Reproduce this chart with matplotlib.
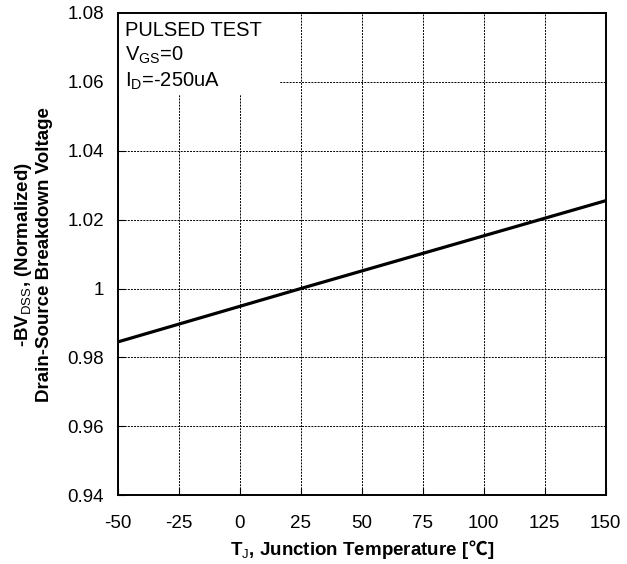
import matplotlib
matplotlib.use("Agg")
import matplotlib.pyplot as plt
from matplotlib.patches import Rectangle
from matplotlib.offsetbox import TextArea, HPacker, AnchoredOffsetbox

plt.rcParams['font.family'] = ['Liberation Sans', 'DejaVu Sans']
plt.rcParams['mathtext.fontset'] = 'custom'
plt.rcParams['mathtext.rm'] = 'Liberation Sans'
plt.rcParams['mathtext.bf'] = 'Liberation Sans:bold'
plt.rcParams['axes.unicode_minus'] = False

# values
temps = [-50, 25, 150]
bv_norm = [0.9845, 1.0, 1.0255]

x_ticks = [-50, -25, 0, 25, 50, 75, 100, 125, 150]
y_ticks = [0.94, 0.96, 0.98, 1.00, 1.02, 1.04, 1.06, 1.08]
y_labels = ['0.94', '0.96', '0.98', '1', '1.02', '1.04', '1.06', '1.08']

fig = plt.figure(figsize=(6.27, 5.64), dpi=100)
ax = fig.add_axes([0.188, 0.122, 0.778, 0.855])

ax.plot(temps, bv_norm, color='black', lw=2.3, zorder=3)

ax.set_xlim(-50, 150)
ax.set_ylim(0.94, 1.08)
ax.set_xticks(x_ticks)
ax.set_yticks(y_ticks)
ax.set_yticklabels(y_labels)
ax.tick_params(direction='in', length=5, width=0.8, labelsize=13.5)
ax.tick_params(axis='x', pad=14)
ax.tick_params(axis='y', pad=10)
ax.grid(True, color='black', linestyle=(0, (2, 1.2)), lw=0.7)
for s in ax.spines.values():
    s.set_linewidth(1.4)

ax.set_ylabel(r'-BV$_{\mathrm{DSS}}$, (Normalized)' + '\nDrain-Source Breakdown Voltage',
              fontsize=13.5, fontweight='bold', labelpad=10, linespacing=1.2)

# x label built from pieces so the degree-Celsius sign gets a font that has it
lbl_props = dict(fontsize=13.5, fontweight='bold')
xlabel = HPacker(children=[
    TextArea(r'T$_{\mathrm{J}}$, Junction Temperature [', textprops=lbl_props),
    TextArea('℃', textprops=dict(family=['Noto Sans CJK SC', 'DejaVu Sans'], **lbl_props)),
    TextArea(']', textprops=lbl_props),
], align='baseline', pad=0, sep=0)
ax.add_artist(AnchoredOffsetbox(loc='upper center', child=xlabel, pad=0, borderpad=0,
                                frameon=False, bbox_to_anchor=(0.5, -0.092),
                                bbox_transform=ax.transAxes))

# white patch hiding the grid behind the test conditions
ax.add_patch(Rectangle((0, 0.83), 0.332, 0.17, transform=ax.transAxes,
                       facecolor='white', edgecolor='none', zorder=2.5))
ax.text(0.014, 0.984,
        'PULSED TEST\n' + r'V$_{\mathrm{GS}}$=0' + '\n' + r'I$_{\mathrm{D}}$=-250uA',
        transform=ax.transAxes, ha='left', va='top', fontsize=14.5,
        linespacing=1.3, zorder=4)

fig.savefig('out.png', dpi=100)
